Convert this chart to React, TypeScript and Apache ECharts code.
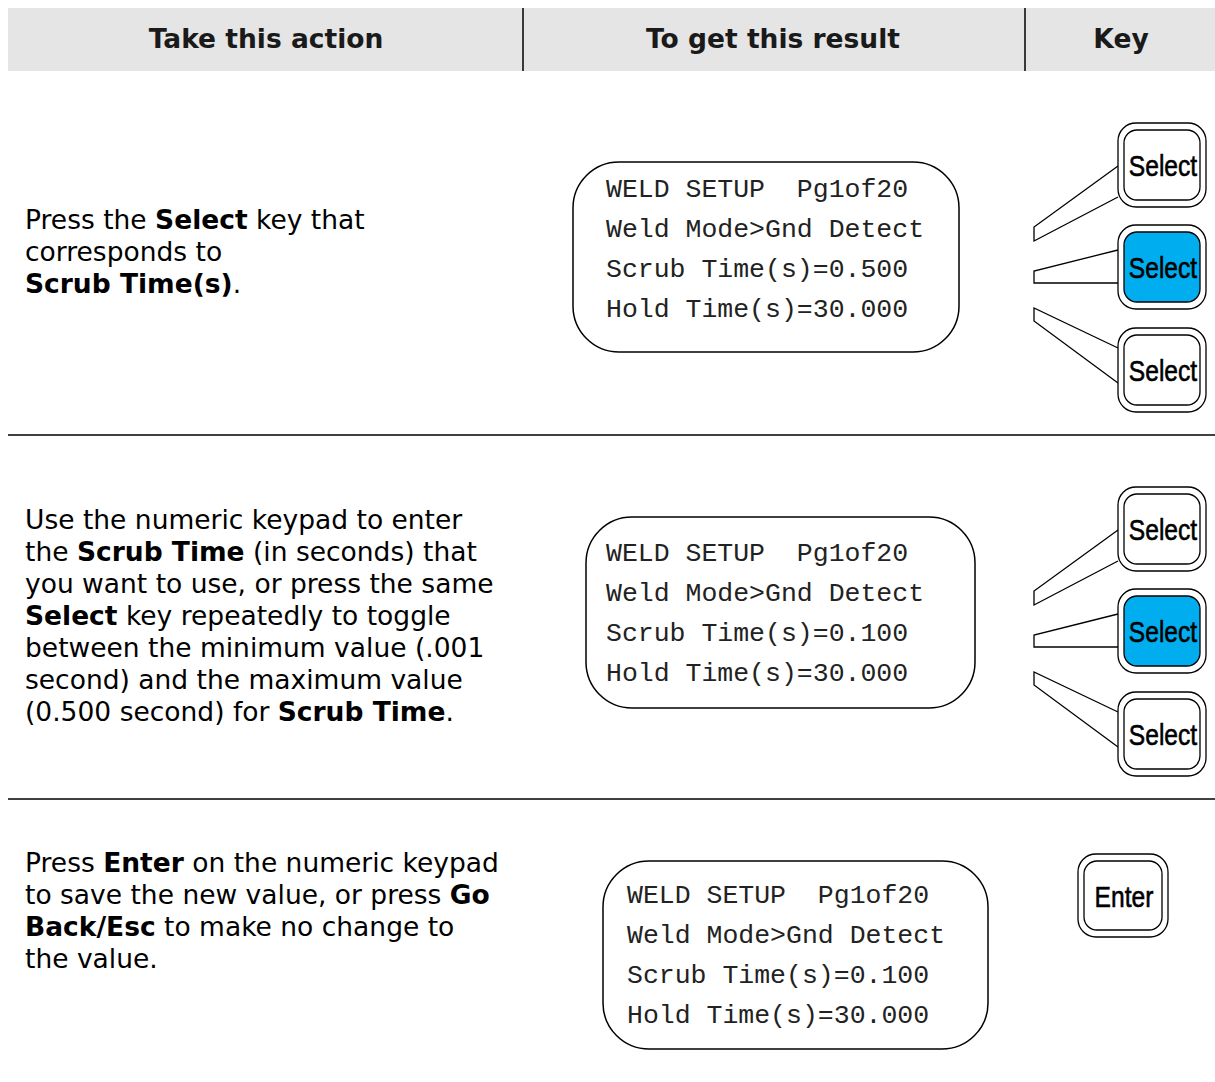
import React, { useEffect, useRef } from 'react';
import * as echarts from 'echarts';

const HEADERS = ['Take this action', 'To get this result', 'Key'];

const ACTION_1 = ['Press the {b|Select} key that', 'corresponds to', '{b|Scrub Time(s)}.'];
const ACTION_2 = [
  'Use the numeric keypad to enter',
  'the {b|Scrub Time} (in seconds) that',
  'you want to use, or press the same',
  '{b|Select} key repeatedly to toggle',
  'between the minimum value (.001',
  'second) and the maximum value',
  '(0.500 second) for {b|Scrub Time}.',
];
const ACTION_3 = [
  'Press {b|Enter} on the numeric keypad',
  'to save the new value, or press {b|Go}',
  '{b|Back/Esc} to make no change to',
  'the value.',
];

const LCD_1 = ['WELD SETUP  Pg1of20', 'Weld Mode>Gnd Detect', 'Scrub Time(s)=0.500', 'Hold Time(s)=30.000'];
const LCD_2 = ['WELD SETUP  Pg1of20', 'Weld Mode>Gnd Detect', 'Scrub Time(s)=0.100', 'Hold Time(s)=30.000'];
const LCD_3 = ['WELD SETUP  Pg1of20', 'Weld Mode>Gnd Detect', 'Scrub Time(s)=0.100', 'Hold Time(s)=30.000'];

const KEYS_1 = ['Select', 'Select', 'Select'];
const KEYS_2 = ['Select', 'Select', 'Select'];
const KEYS_3 = ['Enter'];
const ACTIVE_KEY = [1, 1, -1];

const SANS = '"DejaVu Sans", Verdana, sans-serif';
const MONO = '"Liberation Mono", "Courier New", monospace';
const KEYFONT = '"Liberation Sans", Arial, sans-serif';

export default function App() {
  const ref = useRef<HTMLDivElement>(null);
  useEffect(() => {
    document.body.style.margin = '0';
    const chart = echarts.init(ref.current!, null, { renderer: 'svg' });
    const els: any[] = [];

    // header band
    els.push({ type: 'rect', shape: { x: 8, y: 8, width: 1207, height: 63 }, style: { fill: '#e5e5e5' } });
    [523, 1025].forEach((x) =>
      els.push({ type: 'line', shape: { x1: x, y1: 8, x2: x, y2: 71 }, style: { stroke: '#000', lineWidth: 1.5 } })
    );
    const headerX = [266, 773, 1121];
    HEADERS.forEach((h, i) =>
      els.push({
        type: 'text',
        x: headerX[i],
        y: 38,
        style: {
          text: h,
          fontFamily: SANS,
          fontWeight: 'bold',
          fontSize: 26.5,
          fill: '#1a1a1a',
          align: 'center',
          verticalAlign: 'middle',
        },
      })
    );

    // row separators
    [435, 799].forEach((y) =>
      els.push({ type: 'line', shape: { x1: 8, y1: y, x2: 1215, y2: y }, style: { stroke: '#000', lineWidth: 1.5 } })
    );

    // action texts
    const actions = [ACTION_1, ACTION_2, ACTION_3];
    const actionY = [219, 519, 862];
    actions.forEach((lines, r) =>
      lines.forEach((line, i) =>
        els.push({
          type: 'text',
          x: 25,
          y: actionY[r] + i * 32,
          style: {
            text: line,
            fontFamily: SANS,
            fontSize: 26.5,
            fill: '#000',
            align: 'left',
            verticalAlign: 'middle',
            rich: {
              b: { fontFamily: SANS, fontSize: 26.5, fontWeight: 'bold', fill: '#000' },
            },
          },
        })
      )
    );

    // LCD screens
    const lcds = [LCD_1, LCD_2, LCD_3];
    const boxes = [
      { x: 573, y: 162, w: 386, h: 190, tx: 606, ty: 190 },
      { x: 586, y: 517, w: 389, h: 191, tx: 606, ty: 554 },
      { x: 603, y: 861, w: 385, h: 188, tx: 627, ty: 896 },
    ];
    lcds.forEach((lines, r) => {
      const b = boxes[r];
      els.push({
        type: 'rect',
        shape: { x: b.x, y: b.y, width: b.w, height: b.h, r: 46 },
        style: { fill: 'none', stroke: '#000', lineWidth: 1.5 },
      });
      lines.forEach((line, i) =>
        els.push({
          type: 'text',
          x: b.tx,
          y: b.ty + i * 40,
          style: {
            text: line,
            fontFamily: MONO,
            fontSize: 26.5,
            fill: '#222',
            align: 'left',
            verticalAlign: 'middle',
          },
        })
      );
    });

    // keys
    const drawKey = (x: number, y: number, w: number, h: number, label: string, active: boolean) => {
      els.push({
        type: 'rect',
        shape: { x, y, width: w, height: h, r: 18 },
        style: { fill: '#fff', stroke: '#000', lineWidth: 1.3 },
      });
      els.push({
        type: 'rect',
        shape: { x: x + 6, y: y + 7, width: w - 12, height: h - 14, r: 13 },
        style: { fill: active ? '#00aeef' : '#fff', stroke: '#000', lineWidth: 1.3 },
      });
      els.push({
        type: 'text',
        x: x + w / 2 + 1,
        y: y + h / 2 + 1,
        scaleX: 0.82,
        style: {
          text: label,
          fontFamily: KEYFONT,
          fontSize: 30,
          fill: '#000',
          stroke: '#000',
          lineWidth: 0.6,
          align: 'center',
          verticalAlign: 'middle',
        },
      });
    };

    const wedges = [
      [[1118, 166], [1034, 227], [1034, 241], [1118, 197]],
      [[1118, 250], [1034, 271], [1034, 283], [1118, 283]],
      [[1118, 348], [1034, 308], [1034, 321], [1118, 383]],
    ];
    const keyTops = [123, 225, 328];
    [KEYS_1, KEYS_2].forEach((keys, r) => {
      const off = r * 364;
      wedges.forEach((pts) =>
        els.push({
          type: 'polyline',
          shape: { points: pts.map((p) => [p[0], p[1] + off]) },
          style: { fill: 'none', stroke: '#000', lineWidth: 1.3 },
        })
      );
      keys.forEach((k, i) => drawKey(1118, keyTops[i] + off, 88, 84, k, ACTIVE_KEY[r] === i));
    });
    KEYS_3.forEach((k, i) => drawKey(1078, 854 + i * 100, 90, 83, k, ACTIVE_KEY[2] === i));

    chart.setOption({ animation: false, graphic: { elements: els } });
    return () => chart.dispose();
  }, []);
  return <div ref={ref} style={{ width: 1215, height: 1082 }} />;
}
